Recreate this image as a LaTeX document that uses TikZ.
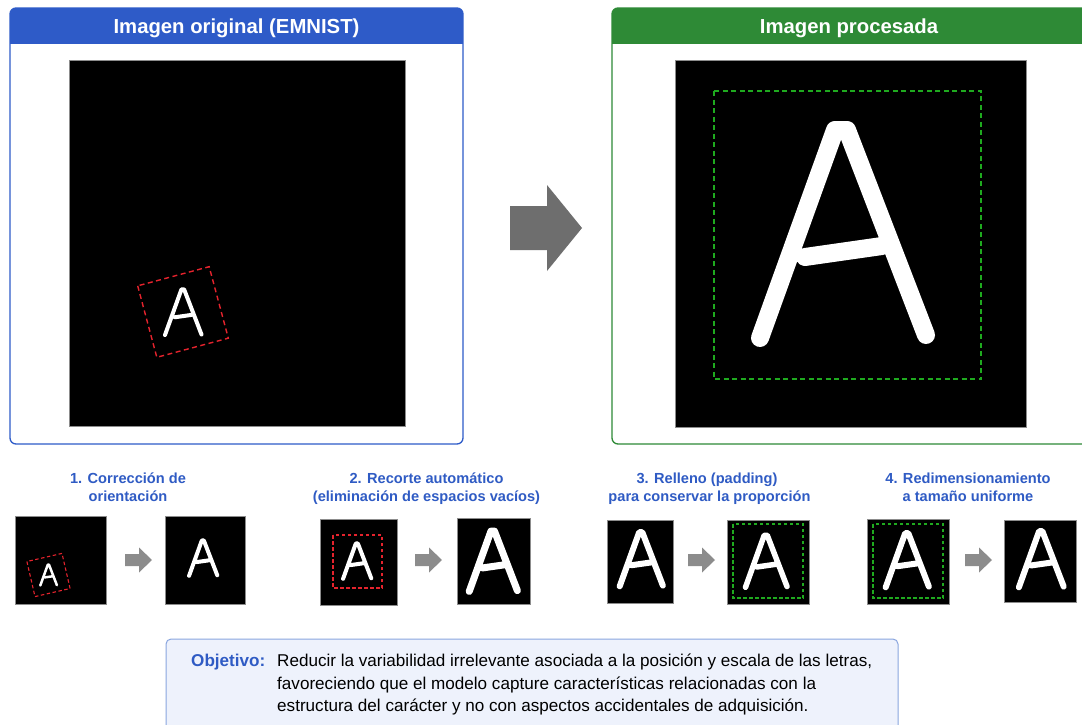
\documentclass[tikz,border=0pt]{standalone}
\usepackage{fontspec}
\setmainfont{Liberation Sans}
\definecolor{hdrblue}{HTML}{2E5BC8}
\definecolor{hdrgreen}{HTML}{2E8A36}
\definecolor{ttlblue}{HTML}{2F5BC4}
\definecolor{boxred}{HTML}{E5232D}
\definecolor{boxgreen}{HTML}{1FAA1F}
\definecolor{arrgray}{HTML}{6E6E6E}
\definecolor{sarrgray}{HTML}{8C8C8C}
\definecolor{objfill}{HTML}{EEF2FC}
\definecolor{objdraw}{HTML}{8AA6DF}
\tikzset{
  img/.style={fill=black, draw=black!45, line width=0.6pt, inner sep=0pt, outer sep=0pt},
  reddash/.style={draw=boxred, line width=1.4pt, dash pattern=on 5pt off 3.5pt},
  greendash/.style={draw=boxgreen, line width=1.4pt, dash pattern=on 5pt off 3.5pt},
  pics/letA/.style={code={\draw[white, line cap=round, line join=round, line width=#1]
      (-82,105) -- (-7,-103) -- (5,-103) -- (84,102) (-37,24) -- (40,13);}},
  pics/sarrow/.style={code={\fill[sarrgray] (0,-6) -- (14,-6) -- (14,-12.5) -- (27,0) -- (14,12.5) -- (14,6) -- (0,6) -- cycle;}},
  hdr/.style={text=white, font=\bfseries\fontsize{20.3}{22}\selectfont, anchor=base, inner sep=0pt},
  steptitle/.style={text=ttlblue, font=\bfseries\fontsize{14.6}{18}\selectfont, anchor=base, inner sep=0pt},
  body/.style={font=\fontsize{17.1}{20}\selectfont, anchor=base west, inner sep=0pt},
}
\begin{document}
\begin{tikzpicture}[x=1pt,y=-1pt]
\useasboundingbox (0,0) rectangle (1082,725);
\clip (0,0) rectangle (1082,725);
\fill[white] (0,0) rectangle (1082,725);

% ---------- left panel ----------
\begin{scope}
  \clip[rounded corners=6pt] (10,8) rectangle (463,444);
  \fill[hdrblue] (10,8) rectangle (463,44);
\end{scope}
\draw[hdrblue, line width=1.3pt, rounded corners=6pt] (10,8) rectangle (463,444);
\node[hdr] (lefttitle) at (236.5,33.5) {Imagen original (EMNIST)};
\node[img, minimum width=336pt, minimum height=366pt] (orig) at (237,243) {};
\begin{scope}[shift={(183,312)}, rotate=15]
  \draw[reddash] (-37,-37) rectangle (37,37);
  \pic[scale=0.22] at (0,0) {letA=4pt};
\end{scope}

% ---------- big arrow ----------
\fill[arrgray] (510,206) -- (547,206) -- (547,185) -- (582,228) -- (547,271) -- (547,250) -- (510,250) -- cycle;

% ---------- right panel ----------
\begin{scope}
  \clip[rounded corners=6pt] (612,8) rectangle (1095,444);
  \fill[hdrgreen] (612,8) rectangle (1095,44);
\end{scope}
\draw[hdrgreen, line width=1.3pt, rounded corners=6pt] (612,8) rectangle (1095,444);
\node[hdr] (righttitle) at (849,33.5) {Imagen procesada};
\node[img, minimum width=351pt, minimum height=367pt] (proc) at (850.5,243.5) {};
\draw[greendash] (714,91) rectangle (981,379);
\pic at (842,233) {letA=18pt};

% ---------- step 1 ----------
\node[steptitle] (t1a) at (128,483) {1. Corrección de};
\node[steptitle] (t1b) at (128,501) {orientación};
\node[img, minimum width=91pt, minimum height=88pt] (g1a) at (60.5,560) {};
\begin{scope}[shift={(48.5,575)}, rotate=13]
  \draw[reddash, line width=1.1pt, dash pattern=on 3.5pt off 2.5pt] (-18,-18) rectangle (18,18);
  \pic[scale=0.1] at (0,0) {letA=2.5pt};
\end{scope}
\pic at (125,560) {sarrow};
\node[img, minimum width=80pt, minimum height=88pt] (g1b) at (205,560) {};
\pic[scale=0.17] at (203,558) {letA=4pt};

% ---------- step 2 ----------
\node[steptitle] (t2a) at (426.5,483) {2. Recorte automático};
\node[steptitle] (t2b) at (426.5,501) {(eliminación de espacios vacíos)};
\node[img, minimum width=77pt, minimum height=86pt] (g2a) at (358.5,562) {};
\draw[reddash, line width=1.1pt, dash pattern=on 3.5pt off 2.5pt] (333,535) rectangle (382,588);
\pic[scale=0.17] at (357,561) {letA=4pt};
\pic at (415,560) {sarrow};
\node[img, minimum width=73pt, minimum height=86pt] (g2b) at (493.5,561) {};
\pic[scale=0.29] at (493,561) {letA=7pt};

% ---------- step 3 ----------
\node[steptitle] (t3a) at (707,483) {3. Relleno (padding)};
\node[steptitle] (t3b) at (709.5,501) {para conservar la proporción};
\node[img, minimum width=66pt, minimum height=83pt] (g3a) at (640,561.5) {};
\pic[scale=0.26] at (641,559) {letA=6pt};
\pic at (688,560) {sarrow};
\node[img, minimum width=82pt, minimum height=84pt] (g3b) at (768,562) {};
\draw[greendash, line width=1.1pt, dash pattern=on 3.5pt off 2.5pt] (733,524) rectangle (803,598);
\pic[scale=0.25] at (766,561) {letA=5.5pt};

% ---------- step 4 ----------
\node[steptitle] (t4a) at (968,483) {4. Redimensionamiento};
\node[steptitle] (t4b) at (968,501) {a tamaño uniforme};
\node[img, minimum width=82pt, minimum height=85pt] (g4a) at (908,561.5) {};
\draw[greendash, line width=1.1pt, dash pattern=on 3.5pt off 2.5pt] (873,524) rectangle (943,598);
\pic[scale=0.26] at (907,560) {letA=6pt};
\pic at (965,560) {sarrow};
\node[img, minimum width=72pt, minimum height=82pt] (g4b) at (1040,561) {};
\pic[scale=0.27] at (1041,559) {letA=6pt};

% ---------- objective box ----------
\draw[fill=objfill, draw=objdraw, line width=1pt, rounded corners=5pt] (166,639) rectangle (898,745);
\node[body, text=ttlblue, font=\bfseries\fontsize{17.1}{20}\selectfont] (objlabel) at (191,666) {Objetivo:};
\node[body] (obj1) at (277,666) {Reducir la variabilidad irrelevante asociada a la posición y escala de las letras,};
\node[body] (obj2) at (277,689) {favoreciendo que el modelo capture características relacionadas con la};
\node[body] (obj3) at (277,711) {estructura del carácter y no con aspectos accidentales de adquisición.};
\end{tikzpicture}
\end{document}
